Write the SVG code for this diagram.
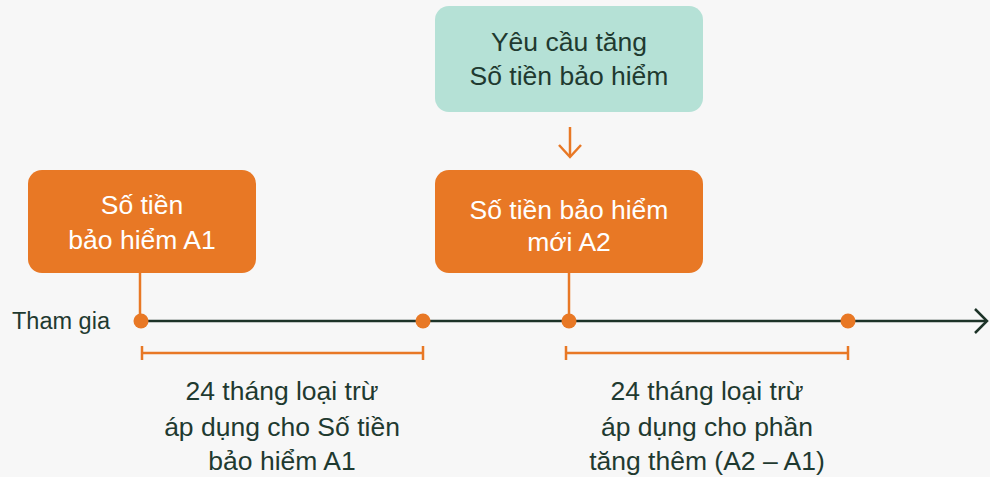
<svg xmlns="http://www.w3.org/2000/svg" width="990" height="477" viewBox="0 0 990 477">
<style>
.t{font-family:"Liberation Sans",Arial,sans-serif;font-size:26.5px;text-anchor:middle}
.w{fill:#ffffff}
.d{fill:#1f3a30}
.box{fill:#e87825}
.teal{fill:#b5e1d6}
.ol{stroke:#e87825;stroke-width:2.5;fill:none}
.dot{fill:#e87825}
</style>
<rect width="990" height="477" fill="#f7f7f7"/>
<g id="connectors">
<line x1="140" y1="321" x2="986" y2="321" stroke="#1d3328" stroke-width="2.5"/>
<polyline points="975,309 987,321 975,333" fill="none" stroke="#1d3328" stroke-width="2.5"/>
<line class="ol" x1="140" y1="272" x2="140" y2="321"/>
<line class="ol" x1="569" y1="272" x2="569" y2="321"/>
<line class="ol" x1="570" y1="127" x2="570" y2="156"/>
<polyline class="ol" points="559,145 570,157 581,145"/>
<path class="ol" d="M142,346V360M142,353H423M423,346V360"/>
<path class="ol" d="M566,346V360M566,353H848M848,346V360"/>
<circle class="dot" cx="141" cy="321" r="7.5"/>
<circle class="dot" cx="423" cy="321" r="7.5"/>
<circle class="dot" cx="569" cy="321" r="7.5"/>
<circle class="dot" cx="848" cy="321" r="7.5"/>
</g>
<g id="request">
<rect class="teal" x="435" y="6" width="268" height="106" rx="14"/>
<text class="t d" x="569" y="51">Yêu cầu tăng</text>
<text class="t d" x="569" y="85">Số tiền bảo hiểm</text>
</g>
<g id="a1">
<rect class="box" x="28" y="170" width="228" height="103" rx="14"/>
<text class="t w" x="142" y="214">Số tiền</text>
<text class="t w" x="142" y="249">bảo hiểm A1</text>
</g>
<g id="a2">
<rect class="box" x="435" y="170" width="268" height="103" rx="14"/>
<text class="t w" x="569" y="219">Số tiền bảo hiểm</text>
<text class="t w" x="569" y="251">mới A2</text>
</g>
<g id="join">
<text class="d" x="12" y="329" style="font-family:'Liberation Sans',Arial,sans-serif;font-size:23.5px">Tham gia</text>
</g>
<g id="note1">
<text class="t d" x="282" y="400">24 tháng loại trừ</text>
<text class="t d" x="282" y="436">áp dụng cho Số tiền</text>
<text class="t d" x="282" y="470">bảo hiểm A1</text>
</g>
<g id="note2">
<text class="t d" x="707" y="400">24 tháng loại trừ</text>
<text class="t d" x="707" y="436">áp dụng cho phần</text>
<text class="t d" x="707" y="470">tăng thêm (A2 – A1)</text>
</g>
</svg>
